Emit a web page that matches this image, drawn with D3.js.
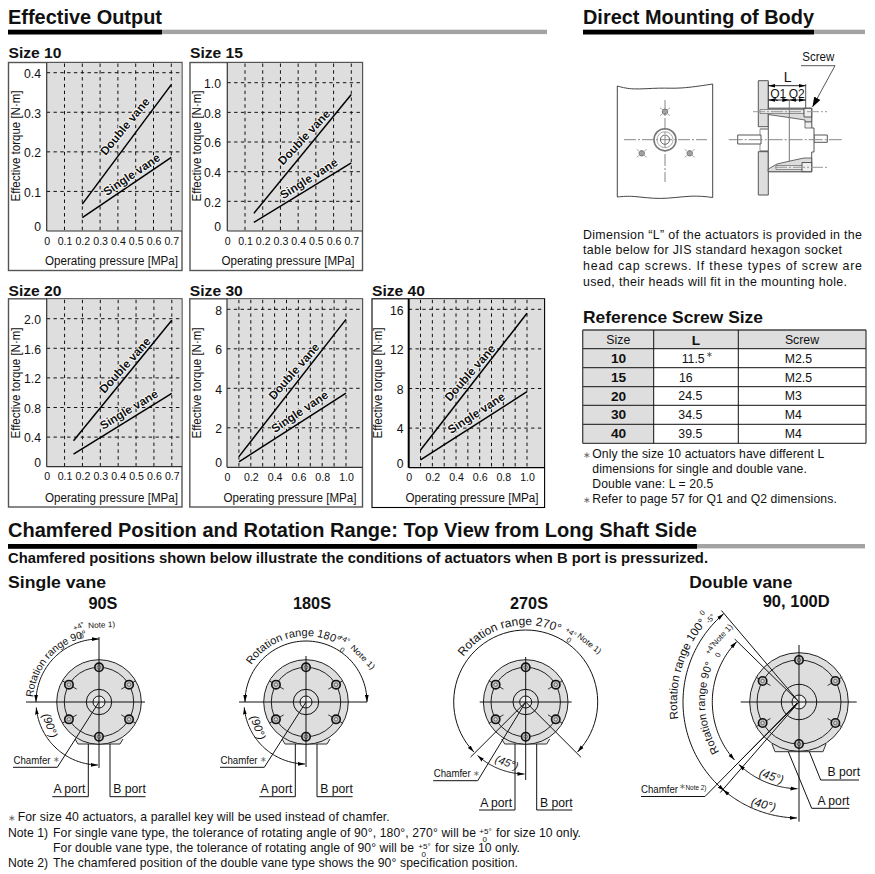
<!DOCTYPE html>
<html><head><meta charset="utf-8">
<script src="https://cdn.jsdelivr.net/npm/d3@7"></script>
<style>
html,body{margin:0;padding:0;background:#fff}
svg{display:block}
text{font-family:"Liberation Sans",Arial,sans-serif;fill:#111}
</style></head><body><svg id="p" width="875" height="874"></svg>
<script>
// ---------- chart values ----------
const size10Double=[[0.2,0.068],[0.7,0.37]], size10Single=[[0.2,0.034],[0.7,0.186]];
const size15Double=[[0.15,0.119],[0.7,0.92]], size15Single=[[0.15,0.058],[0.7,0.459]];
const size20Double=[[0.15,0.35],[0.7,1.98]], size20Single=[[0.15,0.17],[0.7,0.99]];
const size30Double=[[0.1,0.54],[1.0,7.49]], size30Single=[[0.1,0.28],[1.0,3.75]];
const size40Double=[[0.1,1.79],[1.0,15.6]], size40Single=[[0.1,0.78],[1.0,7.68]];
const xTicksShort=[0,0.1,0.2,0.3,0.4,0.5,0.6,0.7];
const xTicksLong=[0,0.2,0.4,0.6,0.8,1.0];
const xGridLong=[0.1,0.2,0.3,0.4,0.5,0.6,0.7,0.8,0.9,1.0];
const yTicks10=[0,0.1,0.2,0.3,0.4], yTicks15=[0,0.2,0.4,0.6,0.8,1.0], yTicks20=[0,0.4,0.8,1.2,1.6,2.0];
const yTicks30=[0,2,4,6,8], yTicks40=[0,4,8,12,16];
const chartNames=["Size 10","Size 15","Size 20","Size 30","Size 40"];
const seriesNames=["Double vane","Single vane"];
const tableHeader=["Size","L","Screw"];
const tableSizes=["10","15","20","30","40"];
const tableL=["11.5","16","24.5","34.5","39.5"];
const tableScrew=["M2.5","M2.5","M3","M4","M4"];

const svg=d3.select("#p"), defs=svg.append("defs");
const DARK="#1a1a1a", GREY="#dedede";
defs.append("marker").attr("id","ar").attr("markerUnits","userSpaceOnUse").attr("markerWidth",9).attr("markerHeight",6)
  .attr("refX",7).attr("refY",2.5).attr("orient","auto-start-reverse")
  .append("path").attr("d","M0,0.6L7,2.5L0,4.4Z").attr("fill","#000");
defs.append("marker").attr("id","arB").attr("markerUnits","userSpaceOnUse").attr("markerWidth",12).attr("markerHeight",10)
  .attr("refX",10).attr("refY",4).attr("orient","auto")
  .append("path").attr("d","M0,0.5L10,4L0,7.5Z").attr("fill","#000");

function T(par,x,y,s,o={}){
  const t=par.append("text").attr("x",x).attr("y",y).text(s)
    .attr("font-size",o.size||12).attr("font-weight",o.bold?"bold":"normal")
    .attr("text-anchor",o.anchor||"start");
  if(o.w){t.attr("textLength",o.w).attr("lengthAdjust",o.adj||"spacingAndGlyphs");}
  if(o.rot!==undefined)t.attr("transform",`rotate(${o.rot} ${x} ${y})`);
  if(o.fill)t.style("fill",o.fill);
  if(o.italic)t.attr("font-style","italic");
  return t;
}
function L(par,x1,y1,x2,y2,o={}){
  return par.append("line").attr("x1",x1).attr("y1",y1).attr("x2",x2).attr("y2",y2)
   .attr("stroke",o.c||DARK).attr("stroke-width",o.w||1).attr("stroke-dasharray",o.dash||null);
}
function P(par,pts,o={}){
  const gen=d3.line().curve(o.curve||d3.curveLinear);
  return par.append("path").attr("d",gen(pts)+(o.close?"Z":"")).attr("fill",o.fill||"none")
   .attr("stroke",o.c===undefined?DARK:o.c).attr("stroke-width",o.w||1);
}
function rule(y,x0,x1,x2){
  svg.append("rect").attr("x",x1).attr("y",y).attr("width",x2-x1).attr("height",4.4).attr("fill","#a3a3a3");
  svg.append("rect").attr("x",x0).attr("y",y).attr("width",x1-x0).attr("height",4.8).attr("fill","#000");
}
// ---------- headings ----------
T(svg,8,24,"Effective Output",{size:20.5,bold:1,w:154}); rule(29.7,8,162,547);
T(svg,583,24,"Direct Mounting of Body",{size:20.5,bold:1,w:231}); rule(29.7,583,814,865);
T(svg,8,537,"Chamfered Position and Rotation Range: Top View from Long Shaft Side",{size:20,bold:1,w:689}); rule(544,8,697,865);
T(svg,8,563,"Chamfered positions shown below illustrate the conditions of actuators when B port is pressurized.",{size:14,bold:1,w:700});

// ---------- charts ----------
function chart(c){
  const g=svg.append("g");
  T(g,c.fx0,c.titleY,c.name,{size:15.5,bold:1,w:53});
  g.append("rect").attr("x",c.fx0).attr("y",c.fy0).attr("width",c.fx1-c.fx0).attr("height",c.fy1-c.fy0)
    .attr("fill","#fff").attr("stroke",c.frame).attr("stroke-width",c.frameW);
  g.append("rect").attr("x",c.x0).attr("y",c.fy0+.6).attr("width",c.fx1-c.x0-.6).attr("height",c.y0-c.fy0-.6).attr("fill",GREY);
  const x=d3.scaleLinear().domain(c.xDom).range([c.x0,c.x1]);
  const y=d3.scaleLinear().domain([0,c.yMax]).range([c.y0,c.yTop]);
  c.xGrid.forEach(v=>{ if(v>0) L(g,x(v),c.fy0+1,x(v),c.y0,{w:1,c:"#111",dash:"3.4 3.4"}); });
  c.yTicks.forEach(v=>{ if(v>0) L(g,c.x0,y(v),c.fx1-1,y(v),{w:1,c:"#111",dash:"3.4 3.4"}); });
  L(g,c.x0,c.fy0,c.x0,c.y0,{w:c.axisW,c:c.axisC});
  L(g,c.x0,c.y0,c.fx1,c.y0,{w:1.2,c:c.axisC});
  const ax=g.append("g").attr("transform",`translate(0,${c.y0})`)
    .call(d3.axisBottom(x).tickValues(c.xTicks).tickSize(0).tickPadding(0).tickFormat(d=>d===0?"0":d3.format(".1f")(d)));
  ax.select(".domain").remove();
  ax.selectAll("text").attr("y",null).attr("dy",null).attr("transform",`translate(0,13.5)`).attr("font-size",10.6)
    .attr("font-family",null).style("fill","#111");
  const ay=g.append("g").attr("transform",`translate(${c.yLab},0)`)
    .call(d3.axisLeft(y).tickValues(c.yTicks).tickSize(0).tickPadding(0).tickFormat(c.yFmt));
  ay.select(".domain").remove();
  ay.selectAll("text").attr("font-size",12.2).attr("font-family",null).style("fill","#111")
    .attr("dy",d=>d===0?"-0.05em":"0.4em");
  const line=d3.line().x(d=>x(d[0])).y(d=>y(d[1]));
  [c.dbl,c.sgl].forEach(s=>g.append("path").attr("d",line(s)).attr("fill","none").attr("stroke","#000").attr("stroke-width",1.5));
  [[seriesNames[0],c.dl],[seriesNames[1],c.sl]].forEach(([s,p])=>{
    T(g,p[0],p[1],s,{size:11.8,bold:1,anchor:"middle",rot:p[2]}).style("stroke","#fff").style("stroke-width",1.6).style("paint-order","stroke").attr("stroke-linejoin","round");
  });
  T(g,c.yAxX,c.yAxY,"Effective torque [N·m]",{size:12,anchor:"middle",rot:-90,w:111});
  T(g,c.xAxX,c.fy1-5.2,"Operating pressure [MPa]",{size:12,anchor:"middle",w:133});
}
const f1=d3.format(".1f"), f0=d3.format("d");
const fmt1=d=>d===0?"0":f1(d);
chart({name:chartNames[0],titleY:57.5,fx0:8.5,fx1:182,fy0:62.5,fy1:270.5,x0:46.7,x1:171.3,y0:231,yTop:72.7,yMax:0.4,xDom:[0,0.7],
 xTicks:xTicksShort,xGrid:xTicksShort,yTicks:yTicks10,yFmt:fmt1,yLab:41,dbl:size10Double,sgl:size10Single,
 dl:[128,129,-50.5],sl:[134,178,-34],yAxX:20,yAxY:146,xAxX:111.5,frame:"#555",frameW:1.4,axisC:"#333",axisW:1.2});
chart({name:chartNames[1],titleY:57.5,fx0:190,fx1:362.5,fy0:62.5,fy1:270.5,x0:227.3,x1:351.3,y0:231,yTop:82.7,yMax:1.0,xDom:[0,0.7],
 xTicks:xTicksShort,xGrid:xTicksShort,yTicks:yTicks15,yFmt:fmt1,yLab:221,dbl:size15Double,sgl:size15Single,
 dl:[307,140,-47],sl:[311,182,-32],yAxX:201,yAxY:146,xAxX:288,frame:"#555",frameW:1.4,axisC:"#333",axisW:1.2});
chart({name:chartNames[2],titleY:295.5,fx0:8.5,fx1:182,fy0:298.8,fy1:507,x0:46.7,x1:171.8,y0:466.7,yTop:318.7,yMax:2.0,xDom:[0,0.7],
 xTicks:xTicksShort,xGrid:xTicksShort,yTicks:yTicks20,yFmt:fmt1,yLab:41,dbl:size20Double,sgl:size20Single,
 dl:[128,368,-48],sl:[131,413,-31],yAxX:20,yAxY:383,xAxX:111.5,frame:"#555",frameW:1.4,axisC:"#333",axisW:1.2});
chart({name:chartNames[3],titleY:295.5,fx0:189.8,fx1:362.5,fy0:298.8,fy1:507,x0:227,x1:346,y0:467.3,yTop:309.3,yMax:8,xDom:[0,1.0],
 xTicks:xTicksLong,xGrid:xGridLong,yTicks:yTicks30,yFmt:f0,yLab:222,dbl:size30Double,sgl:size30Single,
 dl:[297,374,-49],sl:[302,415,-33.7],yAxX:201,yAxY:383,xAxX:290,frame:"#555",frameW:1.4,axisC:"#333",axisW:1.2});
chart({name:chartNames[4],titleY:295.5,fx0:372,fx1:544.6,fy0:298.8,fy1:507.5,x0:408.7,x1:527,y0:467.7,yTop:309.3,yMax:16,xDom:[0,1.0],
 xTicks:xTicksLong,xGrid:xGridLong,yTicks:yTicks40,yFmt:f0,yLab:403.5,dbl:size40Double,sgl:size40Single,
 dl:[473,375.5,-49],sl:[478.5,416.5,-33],yAxX:382,yAxY:383,xAxX:472,frame:"#000",frameW:1.1,axisC:"#000",axisW:2});

// ---------- mounting drawing ----------
(function(){
 const g=svg.append("g");
 P(g,[[617.3,86],[632,90],[660,87.5],[680,89],[712.7,84]],{curve:d3.curveBasis,c:"#444"});
 P(g,[[617.3,197],[632,195.5],[660,200],[692,195],[712.7,197.5]],{curve:d3.curveBasis,c:"#444"});
 L(g,617.3,86,617.3,197,{c:"#444"}); L(g,712.7,84,712.7,197.5,{c:"#444"});
 L(g,624,139.7,707,139.7,{c:"#888",dash:"12 2 2 2"}); L(g,665,100,665,182,{c:"#888",dash:"12 2 2 2"});
 g.append("circle").attr("cx",665).attr("cy",139.7).attr("r",11).attr("fill","none").attr("stroke","#777").attr("stroke-width",1.6);
 g.append("circle").attr("cx",665).attr("cy",139.7).attr("r",8).attr("fill","none").attr("stroke","#aaa").attr("stroke-width",1);
 g.append("circle").attr("cx",665).attr("cy",139.7).attr("r",4.6).attr("fill","none").attr("stroke","#666").attr("stroke-width",1);
 [[665,111.7],[641.7,153.3],[689.7,153.3]].forEach(p=>{
  g.append("circle").attr("cx",p[0]).attr("cy",p[1]).attr("r",2.7).attr("fill","#999").attr("stroke","#777");
  L(g,p[0]-5,p[1]-4,p[0]+5,p[1]+4,{c:"#aaa"}); L(g,p[0]-5,p[1]+4,p[0]+5,p[1]-4,{c:"#aaa"});
 });
 // section
 P(g,[[758.3,80.7],[768.3,80.7],[768.3,126.7],[758.3,126.7]],{fill:GREY,close:1,c:"#555"});
 P(g,[[758.3,151.7],[768.3,151.7],[768.3,195],[758.3,195]],{fill:GREY,close:1,c:"#555"});
 L(g,760,129,768,129,{c:"#555"});L(g,760,151,768,151,{c:"#555"});L(g,760,129,760,151,{c:"#999"});
 P(g,[[737.7,135],[761,135],[761,144],[737.7,144]],{close:1,c:"#555",fill:"#fff"});
 P(g,[[814,135],[827.3,135],[827.3,142.3],[814,142.3]],{close:1,c:"#555",fill:"#fff"});
 P(g,[[768.3,108.3],[811.7,108.3],[811.7,128],[814,128],[814,152],[811.7,152],[811.7,171.7],[768.3,171.7],[768.3,108.3]],{c:"#555",fill:"#fff"});
 P(g,[[768.3,108.3],[811.7,108.3],[811.7,122],[805,122],[805,120],[790,117.7],[768.3,114.5]],{fill:"#dcdcdc",close:1,c:"#444",w:.8});
 P(g,[[768.3,171.7],[811.7,171.7],[811.7,158],[804,158],[790,161],[777,164],[768.3,169]],{fill:"#dcdcdc",close:1,c:"#444",w:.8});
 P(g,[[760,109.5],[804,109.5],[804,113.5],[760,113.5]],{close:1,c:"#666",fill:"#e8e8e8",w:.7});
 P(g,[[776,165.5],[810,165.5],[810,169.5],[776,169.5]],{close:1,c:"#666",fill:"#e8e8e8",w:.7});
 P(g,[[804,108.3],[811.7,108.3],[811.7,117],[804,117]],{close:1,c:"#333",fill:"#eee",w:.8});
 P(g,[[802,162.5],[811.7,162.5],[811.7,171.7],[802,171.7]],{close:1,c:"#333",fill:"#eee",w:.8});
 P(g,[[805,122],[811.7,122],[811.7,128],[805,128]],{close:1,c:"#555",fill:"#eee",w:.8});
 L(g,753,111.7,827,111.7,{c:"#999",dash:"12 2 2 2"});
 L(g,775,167.3,827,167.3,{c:"#999",dash:"12 2 2 2"});
 L(g,728.7,139.7,841.7,139.7,{c:"#888",dash:"14 2 2 2"});
 L(g,789.3,100,789.3,161.7,{c:"#777"});
 L(g,768.3,82,768.3,108.3,{c:"#555"}); L(g,805.7,84,805.7,108.3,{c:"#555"});
 L(g,768.3,85.7,805.7,85.7,{c:"#222"}).attr("marker-start","url(#ar)").attr("marker-end","url(#ar)");
 L(g,768.3,100,789.3,100,{c:"#222"}).attr("marker-start","url(#ar)").attr("marker-end","url(#ar)");
 L(g,789.3,100,805.7,100,{c:"#222"}).attr("marker-start","url(#ar)").attr("marker-end","url(#ar)");
 T(g,787.7,81.7,"L",{size:14,anchor:"middle"});
 T(g,778.3,97.7,"Q1",{size:12,anchor:"middle"}); T(g,796.7,97.7,"Q2",{size:12,anchor:"middle"});
 T(g,802.3,61,"Screw",{size:12,w:32});
 P(g,[[801,65.7],[835,65.7],[812.5,107]],{c:"#444",w:.9}).attr("marker-end","url(#arB)");
})();
// paragraph
[["Dimension “L” of the actuators is provided in the",279],["table below for JIS standard hexagon socket",259],
 ["head cap screws. If these types of screw are",279],["used, their heads will fit in the mounting hole.",264]]
 .forEach((d,i)=>T(svg,583,[238.5,254.2,270,285.5][i],d[0],{size:12.4,w:d[1],adj:"spacing"}));

// ---------- table ----------
(function(){
 const g=svg.append("g");
 const colX=[582.7,653.7,738.3,866], rowY=[330,348.7,367.7,386.7,405.3,424.3,443.3];
 g.append("rect").attr("x",colX[0]).attr("y",rowY[0]).attr("width",colX[1]-colX[0]).attr("height",rowY[6]-rowY[0]).attr("fill",GREY);
 g.append("rect").attr("x",colX[0]).attr("y",rowY[0]).attr("width",colX[3]-colX[0]).attr("height",rowY[1]-rowY[0]).attr("fill",GREY);
 rowY.forEach((y,i)=>L(g,colX[0],y,colX[3],y,{w:(i==0||i==6)?1.3:1,c:(i==0||i==6)?"#444":"#111"}));
 colX.forEach((x,i)=>L(g,x,rowY[0],x,rowY[6],{w:(i==0||i==3)?1.3:1,c:(i==0||i==3)?"#444":"#111"}));
 T(g,618.3,344,tableHeader[0],{size:12.3,anchor:"middle"});
 T(g,696,344.5,tableHeader[1],{size:13.7,bold:1,anchor:"middle"});
 T(g,802,344,tableHeader[2],{size:12.3,anchor:"middle"});
 const base=[362.7,381.7,400.7,419.3,438.3], lx=[681.7,679,678.3,678.3,678.3], sy=[363,382,400,419,438];
 tableSizes.forEach((s,i)=>{
  T(g,618.5,base[i],s,{size:13.7,bold:1,anchor:"middle"});
  T(g,lx[i],sy[i],tableL[i],{size:12.3});
  T(g,784.7,sy[i],tableScrew[i],{size:12.3});
 });
 T(g,705.5,356.5,"∗",{size:8,fill:"#444"});
 T(svg,583,323.3,"Reference Screw Size",{size:16.5,bold:1,w:180});
 const notes=[["Only the size 10 actuators have different L",458.3,232],["dimensions for single and double vane.",473.3,214.5],
  ["Double vane: L = 20.5",488.3,121],["Refer to page 57 for Q1 and Q2 dimensions.",503.3,244.5]];
 notes.forEach(n=>T(svg,592.3,n[1],n[0],{size:12.2,w:n[2],adj:"spacing"}));
 T(svg,583,458.3,"∗",{size:9,fill:"#666"}); T(svg,583,503.3,"∗",{size:9,fill:"#666"});
})();

// ---------- rotation diagrams ----------
let pid=0;
const arcD=(r,a,b)=>d3.lineRadial().angle(d=>d*Math.PI/180).radius(r)(d3.range(0,61).map(i=>a+(b-a)*i/60));
function arc(g,r,a,b,w){ return g.append("path").attr("d",arcD(r,a,b)).attr("fill","none").attr("stroke","#111").attr("stroke-width",w||1)
   .attr("marker-start","url(#ar)").attr("marker-end","url(#ar)"); }
function arcText(g,r,a,b,s,size){
 const id="ap"+(pid++);
 defs.append("path").attr("id",id).attr("d",arcD(r,a,b));
 g.append("text").attr("font-size",size).append("textPath").attr("href","#"+id).text(s);
}
function body(g,R,rb,hub,sh,baseTop,baseBot,hw){
 P(g,[[-hw-1,baseTop],[-hw+2,baseBot],[hw-2,baseBot],[hw+1,baseTop]],{fill:"#e6e6e6",c:"#333"});
 g.append("circle").attr("r",R).attr("fill",GREY).attr("stroke","#222").attr("stroke-width",1);
 g.append("circle").attr("r",rb).attr("fill","none").attr("stroke","#222").attr("stroke-width",1);
 [0,60,120,180,240,300].forEach(a=>{
  const t=a*Math.PI/180,s=Math.sin(t),c=-Math.cos(t),bx=rb*s,by=rb*c;
  if(a%180){
   L(g,(rb-9)*s,(rb-9)*c,(rb-3)*s,(rb-3)*c,{c:"#333"});
   L(g,(rb+3)*s,(rb+3)*c,(rb+8)*s,(rb+8)*c,{c:"#333"});
  }
  g.append("circle").attr("cx",bx).attr("cy",by).attr("r",4.2).attr("fill","#bdbdbd").attr("stroke","#111").attr("stroke-width",1.6);
  g.append("circle").attr("cx",bx).attr("cy",by).attr("r",1.7).attr("fill","#ddd").attr("stroke","#333").attr("stroke-width",.6);
 });
 g.append("circle").attr("r",hub).attr("fill",GREY).attr("stroke","#111").attr("stroke-width",1);
 g.append("circle").attr("r",sh).attr("fill","#eee").attr("stroke","#111").attr("stroke-width",1);
}
function port(g,pts,tx,ty,s){ P(g,pts,{c:"#111"}); T(g,tx,ty,s,{size:12.2}); }

function singleView(o){
 const g=svg.append("g").attr("transform",`translate(${o.cx},${o.cy})`);
 body(g,42.3,34.7,12.7,6,37,42,23);
 L(g,o.h[0],0,o.h[1],0,{c:"#111"}); L(g,0,o.v[0],0,o.v[1],{c:"#111"});
 P(g,[[0,0],[o.ch[0],o.ch[1]],[o.ch[2],o.ch[1]]],{c:"#111"});
 T(g,o.ch[2]+.5,o.ch[1]-3.5,"Chamfer",{size:11,w:37});
 T(g,o.ch[2]+39.5,o.ch[1]-5,"∗",{size:7.5,fill:"#666"});
 port(g,[[-10.7,42],[-10.7,o.py],[-46.7,o.py]],-45.5,o.py-3.5,"A port");
 port(g,[[11,42],[11,o.py],[46.5,o.py]],14.3,o.py-3.5,"B port");
 return g;
}
// 90S
(function(){
 const g=singleView({cx:99,cy:702,h:[-73,46],v:[-65,66],ch:[-41.7,65.3,-86],py:94.7});
 arc(g,63,-90,0); arc(g,63,-95,-179);
 arcText(g,66,-86,0,"Rotation range 90°",10.4);
 T(g,-24.5,-71,"+4°",{size:7.5,rot:-25});
 T(g,-18.5,-63,"0",{size:7.5,rot:-20});
 T(g,-10.7,-73.7,"Note 1)",{size:8,rot:-3,w:27});
 T(g,-57,13,"(90°)",{size:11.5,rot:70,italic:1});
})();
// 180S
(function(){
 const g=singleView({cx:306,cy:702,h:[-67,61],v:[-46,65],ch:[-41.7,65.3,-86],py:94.7});
 arc(g,61,-90,90); arc(g,62,-95,-179);
 arcText(g,66,-56,40,"Rotation range 180°",11);
 T(g,32,-63.7,"+4°",{size:7.5,rot:30});
 T(g,33,-51,"0",{size:7.5,rot:35});
 T(g,44,-54,"Note 1)",{size:8,rot:45,w:31});
 T(g,-56,15,"(90°)",{size:11.5,rot:70,italic:1});
})();
// 270S
(function(){
 const g=singleView({cx:525.7,cy:702,h:[-46,46],v:[-45,78],ch:[-48,78.7,-92.5],py:108});
 const c=Math.SQRT1_2;
 L(g,0,0,-78*c,78*c,{c:"#111"}); L(g,0,0,78*c,78*c,{c:"#111"});
 arc(g,72,-134,134); arc(g,72,-138,-179);
 arcText(g,77,-54,40,"Rotation range 270°",12);
 T(g,39,-71,"+4°",{size:7.5,rot:35});
 T(g,40,-61,"0",{size:7.5,rot:35});
 T(g,51,-65,"Note 1)",{size:8,rot:38,w:28});
 T(g,-31.5,60,"(45°)",{size:11,rot:20,italic:1});
})();
// Double
(function(){
 const g=svg.append("g").attr("transform","translate(799,702)");
 body(g,49.3,42,17.7,7,42,49.7,26);
 L(g,-58.3,0,57.7,0,{c:"#111"}); L(g,0,-57,0,119.7,{c:"#111"});
 P(g,[[-10.7,49.7],[12.7,106.3],[50.3,106.3]],{c:"#111"}); T(g,18.5,103,"A port",{size:12.2});
 P(g,[[10.3,49.7],[21.7,78],[60,78]],{c:"#111"}); T(g,28.5,74,"B port",{size:12.2});
 const lead=(a,r)=>{const t=a*Math.PI/180;L(g,0,0,r*Math.sin(t),-r*Math.cos(t),{c:"#111"});};
 lead(-40.3,120); lead(-45.6,90); lead(-135,92); lead(-139,120);
 P(g,[[-2,1],[-94,94.5],[-158,94.5]],{c:"#111"});
 T(g,-158,91,"Chamfer",{size:11,w:37}); T(g,-120,87,"∗",{size:7.5,fill:"#666"}); T(g,-113.5,88,"Note 2)",{size:7.5,w:21});
 arc(g,116,-140,-40.5); arc(g,116,-139,-179);
 arc(g,86.7,-132,-46); arc(g,86.7,-136,-179);
 arcText(g,122,-98,-30,"Rotation range 100°",11.6);
 T(g,-96.3,-86,"0",{size:7.5,rot:-48});
 T(g,-90,-78,"-5°",{size:7.5,rot:-48});
 arcText(g,94,-122,-50,"Rotation range 90°",11);
 T(g,-89.7,-47,"+4°",{size:7.5,rot:-60});
 T(g,-80,-44,"0",{size:7.5,rot:-60});
 T(g,-84,-55,"Note 1)",{size:8,rot:-48,w:27});
 T(g,-40.6,74,"(45°)",{size:11.5,rot:18,italic:1});
 T(g,-48.6,102.8,"(40°)",{size:11.5,rot:15,italic:1});
})();
// titles
T(svg,8,587.5,"Single vane",{size:16,bold:1,w:98});
T(svg,689.3,587.5,"Double vane",{size:16,bold:1,w:103});
T(svg,103,609,"90S",{size:16.3,bold:1,anchor:"middle"});
T(svg,312,609,"180S",{size:16.3,bold:1,anchor:"middle"});
T(svg,529,609,"270S",{size:16.3,bold:1,anchor:"middle"});
T(svg,762.7,606.5,"90, 100D",{size:16.3,bold:1,w:67});
// footnotes
T(svg,8,820.7,"∗",{size:9,fill:"#666"});
T(svg,17.7,820.7,"For size 40 actuators, a parallel key will be used instead of chamfer.",{size:12.2,w:372,adj:"spacing"});
T(svg,8,837.3,"Note 1)",{size:12.2,w:40,adj:"spacing"});
T(svg,53,837.3,"For single vane type, the tolerance of rotating angle of 90°, 180°, 270° will be",{size:12.2,w:423,adj:"spacing"});
T(svg,479.3,834,"+5°",{size:8}); T(svg,482.5,841.5,"0",{size:8});
T(svg,496,837.3,"for size 10 only.",{size:12.2,w:85,adj:"spacing"});
T(svg,53,852.3,"For double vane type, the tolerance of rotating angle of 90° will be",{size:12.2,w:361,adj:"spacing"});
T(svg,418.3,849,"+5°",{size:8}); T(svg,421.5,856.5,"0",{size:8});
T(svg,435,852.3,"for size 10 only.",{size:12.2,w:85,adj:"spacing"});
T(svg,8,867.3,"Note 2)",{size:12.2,w:40,adj:"spacing"});
T(svg,53,867.3,"The chamfered position of the double vane type shows the 90° specification position.",{size:12.2,w:465,adj:"spacing"});
</script></body></html>
